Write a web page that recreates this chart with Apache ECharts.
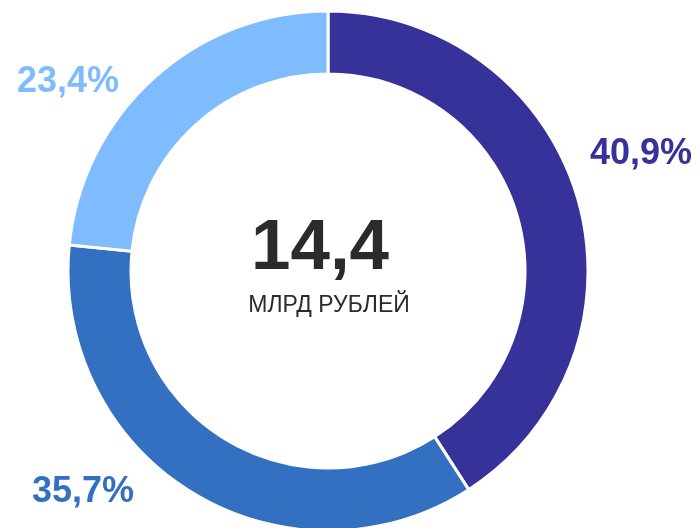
<!DOCTYPE html>
<html><head><meta charset="utf-8">
<script src="https://cdn.jsdelivr.net/npm/echarts@6/dist/echarts.min.js"></script>
<style>html,body{margin:0;padding:0;background:#fff}#c{width:700px;height:528px}</style>
</head><body><div id="c"></div>
<script>
const categories = ['A', 'B', 'C'];
const values = [40.9, 35.7, 23.4];
const labels = ['40,9%', '35,7%', '23,4%'];
const colors = ['#36329a', '#3470c1', '#7fbbff'];
const totalText = '14,4';
const unitText = 'МЛРД РУБЛЕЙ';
const labelPos = [[641, 154], [83, 492], [68, 82]];

const chart = echarts.init(document.getElementById('c'), null, {renderer: 'canvas'});
chart.setOption({
  animation: false,
  graphic: [
    {type: 'text', x: 320, y: 249, style: {text: totalText, fontFamily: 'Liberation Sans, Arial', fontWeight: 'bold', fontSize: 71, fill: '#2b2b2d', align: 'center', verticalAlign: 'middle'}},
    {type: 'text', x: 329, y: 306, style: {text: unitText, fontFamily: 'Liberation Sans, Arial', fontSize: 23, fill: '#2b2b2d', align: 'center', verticalAlign: 'middle'}}
  ],
  series: [{
    type: 'pie',
    center: [328, 271],
    radius: [197, 260],
    startAngle: 90,
    clockwise: true,
    silent: true,
    itemStyle: {borderColor: '#fff', borderWidth: 3},
    label: {
      show: true,
      position: 'outside',
      overflow: 'none',
      width: 200,
      fontFamily: 'Liberation Sans, Arial',
      fontWeight: 'bold',
      fontSize: 36,
      formatter: p => labels[p.dataIndex]
    },
    labelLine: {show: false},
    labelLayout: p => ({x: labelPos[p.dataIndex][0], y: labelPos[p.dataIndex][1], align: 'center', verticalAlign: 'middle'}),
    data: categories.map((c, i) => ({name: c, value: values[i], itemStyle: {color: colors[i]}, label: {color: colors[i]}}))
  }]
});
</script></body></html>
